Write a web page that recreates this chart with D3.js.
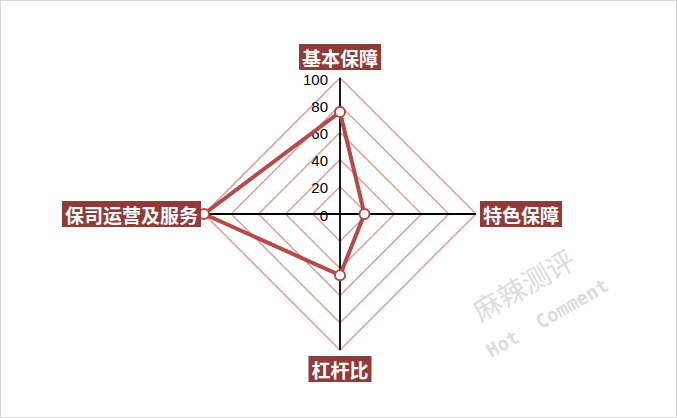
<!DOCTYPE html>
<html><head><meta charset="utf-8">
<script src="https://cdn.jsdelivr.net/npm/d3@7/dist/d3.min.js"></script>
<style>
html,body{margin:0;padding:0;background:#fff;}
svg{display:block;}
</style></head>
<body>
<svg id="c" width="677" height="418"></svg>
<script>
const categories = ["基本保障", "特色保障", "杠杆比", "保司运营及服务"];
const values = [75, 18, 45, 100];
const tickValues = [0, 20, 40, 60, 80, 100];
const watermark = ["麻辣测评", "Hot  Comment"];

const W = 677, H = 418;
const cx = 340, cy = 214, R = 136;
const svg = d3.select("#c");

svg.append("rect").attr("x", 0.5).attr("y", 0.5).attr("width", W - 1).attr("height", H - 1)
  .attr("fill", "#fff").attr("stroke", "#d9d9d9");

const r = d3.scaleLinear().domain([0, 100]).range([0, R]);
const n = categories.length;
const ang = i => (i / n) * 2 * Math.PI; // 0 = up, clockwise
const pt = (i, v) => [cx + r(v) * Math.sin(ang(i)), cy - r(v) * Math.cos(ang(i))];

const g = svg.append("g");
// grid diamonds
tickValues.filter(t => t > 0).forEach(t => {
  g.append("path")
    .attr("d", d3.line()(d3.range(n).map(i => pt(i, t))) + "Z")
    .attr("fill", "none").attr("stroke", "#d9a6a4").attr("stroke-width", 1.6);
});
// axes
d3.range(n).forEach(i => {
  const p = pt(i, 100);
  g.append("line").attr("x1", cx).attr("y1", cy).attr("x2", p[0]).attr("y2", p[1])
    .attr("stroke", "#000").attr("stroke-width", 1.8);
});
// tick labels
tickValues.forEach(t => {
  g.append("text").attr("x", cx - 12).attr("y", cy - r(t) + 1)
    .attr("text-anchor", "end").attr("dominant-baseline", "central")
    .attr("font-family", "Liberation Sans, Arial, sans-serif").attr("font-size", 15)
    .attr("fill", "#000").text(t);
});
// series
const pts = values.map((v, i) => pt(i, v));
g.append("path").attr("d", d3.line()(pts) + "Z")
  .attr("fill", "none").attr("stroke", "#b64a48").attr("stroke-width", 4).attr("stroke-linejoin", "round");
pts.forEach(p => {
  g.append("circle").attr("cx", p[0]).attr("cy", p[1]).attr("r", 5)
    .attr("fill", "#fff").attr("stroke", "#b64a48").attr("stroke-width", 2);
});
// category labels
const fs = 19;
categories.forEach((c, i) => {
  const p = pt(i, 100);
  const lg = svg.append("g");
  const t = lg.append("text").attr("font-family", "Noto Sans CJK SC, sans-serif").attr("font-weight", "bold")
    .attr("font-size", fs).attr("fill", "#fff").attr("dominant-baseline", "central").text(c);
  const w = t.node().getComputedTextLength();
  let x, y;
  if (i === 0) { x = p[0] - w / 2; y = p[1] - 21; }
  else if (i === 1) { x = p[0] + 7; y = p[1]; }
  else if (i === 2) { x = p[0] - w / 2; y = p[1] + 19; }
  else { x = p[0] - 6 - w; y = p[1]; }
  t.attr("x", x).attr("y", y);
  lg.insert("rect", "text").attr("x", x - 3).attr("y", y - 13).attr("width", w + 6).attr("height", 26)
    .attr("fill", "#8f3b3a");
});
// watermark
const wm = svg.append("g").attr("transform", "translate(535,305) rotate(-30)")
  .attr("fill", "#dcdce2").attr("text-anchor", "middle");
wm.append("text").attr("x", 0).attr("y", -12).attr("font-family", "Noto Sans CJK SC, serif")
  .attr("font-size", 28).text(watermark[0]);
wm.append("text").attr("x", 4).attr("y", 24).attr("font-family", "DejaVu Sans Mono, monospace")
  .attr("font-size", 19).attr("font-weight", "bold").attr("xml:space", "preserve").text(watermark[1]);
</script>
</body></html>
